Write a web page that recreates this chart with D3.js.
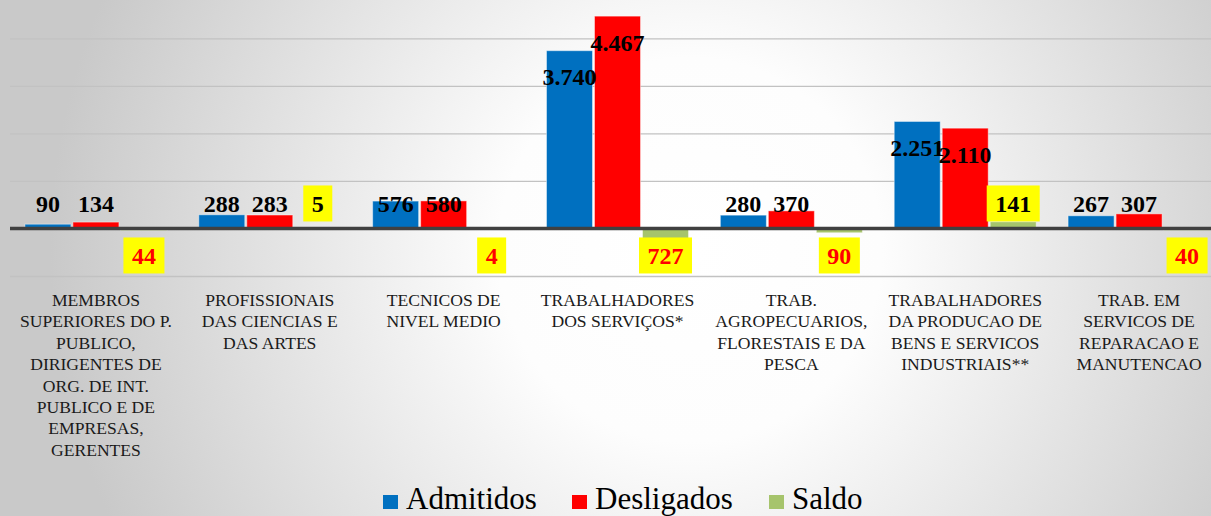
<!DOCTYPE html>
<html>
<head>
<meta charset="utf-8">
<script src="https://cdn.jsdelivr.net/npm/d3@7"></script>
<style>
  body { margin: 0; overflow: hidden; }
  svg { display: block; }
</style>
</head>
<body>
<script>
// categories (wrapped as in the original axis)
var categories = [
  ["MEMBROS", "SUPERIORES DO P.", "PUBLICO,", "DIRIGENTES DE", "ORG. DE INT.", "PUBLICO E DE", "EMPRESAS,", "GERENTES"],
  ["PROFISSIONAIS", "DAS CIENCIAS E", "DAS ARTES"],
  ["TECNICOS DE", "NIVEL MEDIO"],
  ["TRABALHADORES", "DOS SERVIÇOS*"],
  ["TRAB.", "AGROPECUARIOS,", "FLORESTAIS E DA", "PESCA"],
  ["TRABALHADORES", "DA PRODUCAO DE", "BENS E SERVICOS", "INDUSTRIAIS**"],
  ["TRAB. EM", "SERVICOS DE", "REPARACAO E", "MANUTENCAO"]
];
var admitidos = [90, 288, 576, 3740, 280, 2251, 267];
var desligados = [134, 283, 580, 4467, 370, 2110, 307];
var saldo = [-44, 5, -4, -727, -90, 141, -40];
var seriesNames = ["Admitidos", "Desligados", "Saldo"];
var gridTicks = [-1000, 0, 1000, 2000, 3000, 4000];

window.onload = () => {
  var W = 1211, H = 516;
  var colors = { Admitidos: "#0070C0", Desligados: "#FF0000", Saldo: "#A6C46C" };
  var serif = "'Liberation Serif'";
  var ptBR = d3.formatLocale({ decimal: ",", thousands: ".", grouping: [3], currency: ["R$", ""] });
  var fmt = ptBR.format(",d");

  var svg = d3.select("body").append("svg").attr("width", W).attr("height", H);

  // background gradient
  var grad = svg.append("defs").append("radialGradient")
    .attr("id", "bg").attr("gradientUnits", "userSpaceOnUse")
    .attr("cx", 690).attr("cy", 250).attr("r", 640);
  grad.append("stop").attr("offset", 0).attr("stop-color", "#ffffff");
  grad.append("stop").attr("offset", 0.3).attr("stop-color", "#fdfdfd");
  grad.append("stop").attr("offset", 1).attr("stop-color", "#c9c9c9");
  svg.append("rect").attr("width", W).attr("height", H).attr("fill", "url(#bg)");

  var x = d3.scaleBand().domain(d3.range(categories.length)).range([9, 1226]).paddingInner(0).paddingOuter(0);
  var barW = 46, gap = 2;
  var y = d3.scaleLinear().domain([-1000, 5000]).range([276, -9.2]);

  // gridlines
  svg.append("g")
    .attr("transform", "translate(10,0)")
    .call(d3.axisLeft(y).tickValues(gridTicks).tickSize(-(W - 10)).tickFormat(""))
    .call(g => g.select(".domain").remove())
    .call(g => g.selectAll(".tick line").attr("stroke", "#c2c2c2").attr("stroke-width", 1.3));

  var rows = categories.map((c, i) => ({ i: i, Admitidos: admitidos[i], Desligados: desligados[i], Saldo: saldo[i] }));
  var offset = function (k) { return (x.bandwidth() - (3 * barW + 2 * gap)) / 2 + k * (barW + gap); };

  var groups = svg.append("g").selectAll("g").data(rows).enter().append("g")
    .attr("transform", d => "translate(" + x(d.i) + ",0)");

  seriesNames.forEach(function (s, k) {
    groups.append("rect")
      .attr("x", offset(k))
      .attr("width", barW)
      .attr("y", d => y(Math.max(0, d[s])))
      .attr("height", d => Math.abs(y(d[s]) - y(0)))
      .attr("fill", colors[s])
      .attr("stroke", "rgba(255,255,255,0.45)")
      .attr("stroke-width", 1);
  });

  // zero axis line
  svg.append("line")
    .attr("x1", 10).attr("x2", W).attr("y1", y(0)).attr("y2", y(0))
    .attr("stroke", "#404040").attr("stroke-width", 3.5);

  // value labels for Admitidos / Desligados
  ["Admitidos", "Desligados"].forEach(function (s, k) {
    groups.append("text")
      .attr("x", offset(k) + barW / 2)
      .attr("y", d => d[s] > 1000 ? y(d[s]) + 26 : y(0) - 25)
      .attr("dy", "0.35em")
      .attr("text-anchor", "middle")
      .style("font-family", serif).style("font-size", "24px").style("font-weight", "bold")
      .attr("fill", "#000")
      .text(d => fmt(d[s]));
  });

  // Saldo labels in yellow boxes
  var sl = groups.append("g")
    .attr("transform", d => "translate(" + (offset(2) + barW / 2) + "," + (d.Saldo < 0 ? y(0) + 27 : y(0) - 25) + ")");
  sl.append("text")
    .attr("dy", "0.35em")
    .attr("text-anchor", "middle")
    .style("font-family", serif).style("font-size", "24px").style("font-weight", "bold")
    .attr("fill", d => d.Saldo < 0 ? "#FF0000" : "#000")
    .text(d => fmt(Math.abs(d.Saldo)));
  sl.each(function () {
    var g = d3.select(this);
    var bb = g.select("text").node().getBBox();
    g.insert("rect", "text")
      .attr("x", bb.x - 8.5).attr("width", bb.width + 17)
      .attr("y", -18).attr("height", 36)
      .attr("fill", "#FFFF00");
  });

  // category labels
  groups.append("text")
    .attr("text-anchor", "middle")
    .style("font-family", serif).style("font-size", "17.6px")
    .attr("fill", "#1a1a1a")
    .selectAll("tspan").data(d => categories[d.i]).enter().append("tspan")
    .attr("x", x.bandwidth() / 2)
    .attr("y", (d, j) => 306 + j * 21.4)
    .text(d => d);

  // legend
  var legX = [383, 572, 769];
  var leg = svg.append("g").selectAll("g").data(seriesNames).enter().append("g")
    .attr("transform", (d, i) => "translate(" + legX[i] + ",0)");
  leg.append("rect").attr("x", 0).attr("y", 495).attr("width", 15).attr("height", 14)
    .attr("fill", d => colors[d]);
  leg.append("text").attr("x", 23).attr("y", 509)
    .style("font-family", serif).style("font-size", "31px").attr("fill", "#000")
    .text(d => d);
};
</script>
</body>
</html>
